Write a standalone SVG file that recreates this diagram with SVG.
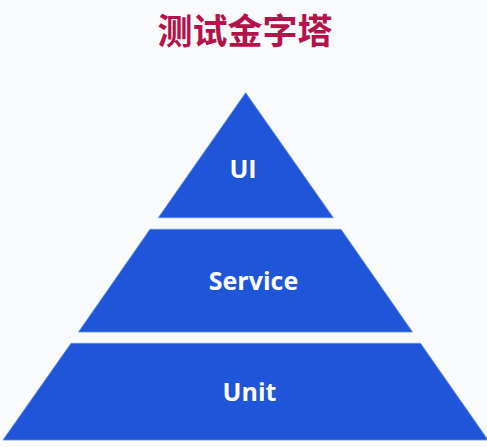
<svg xmlns="http://www.w3.org/2000/svg" width="487" height="447" viewBox="0 0 487 447">
<style>
.layer{fill:#1f55d8;stroke:#5b8fe6;stroke-width:0.8}
.lbl{font-family:"Open Sans","Noto Sans","Liberation Sans",sans-serif;font-weight:700;font-size:25px;fill:#ffffff;text-anchor:middle}
.title{font-family:"Noto Sans CJK SC","Noto Sans",sans-serif;font-weight:700;font-size:35px;fill:#b3124a;text-anchor:middle}
</style>
<rect width="487" height="447" fill="#f9fafb"/>
<text class="title" x="245" y="44">测试金字塔</text>
<g id="ui">
<polygon class="layer" points="245.7,92.7 333.3,217.7 158.3,217.7"/>
<text class="lbl" x="243" y="178">UI</text>
</g>
<g id="service">
<polygon class="layer" points="150,229.3 341,229.3 412.5,332 78.5,332"/>
<text class="lbl" x="253.5" y="290">Service</text>
</g>
<g id="unit">
<polygon class="layer" points="71,343.3 420.5,343.3 488,440 3,440"/>
<text class="lbl" x="249.5" y="401">Unit</text>
</g>
<g id="connectors"/>
</svg>
